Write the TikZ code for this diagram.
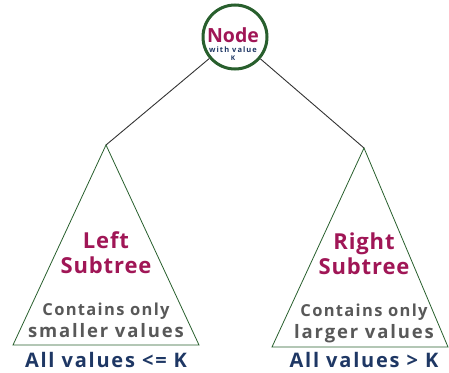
\documentclass[tikz,border=0pt]{standalone}
\usepackage{fontspec}
\setmainfont{Open Sans}
\usepackage{xcolor}
\usepackage{tikz}

\definecolor{titlered}{RGB}{160,22,86}
\definecolor{notegray}{RGB}{88,88,88}
\definecolor{rangeblue}{RGB}{30,55,100}
\definecolor{treegreen}{RGB}{40,95,45}

\begin{document}
\begin{tikzpicture}[x=1pt, y=-1pt,
	title/.style={anchor=base, text=titlered, font=\bfseries\fontsize{22}{24}\selectfont\addfontfeature{LetterSpace=4}},
	note/.style={anchor=base, text=notegray, font=\bfseries\fontsize{16.5}{18}\selectfont\addfontfeature{LetterSpace=8}},
	bignote/.style={anchor=base, text=notegray, font=\bfseries\fontsize{18.5}{20}\selectfont\addfontfeature{LetterSpace=10}},
	rangetext/.style={anchor=base, text=rangeblue, font=\bfseries\fontsize{20}{22}\selectfont\addfontfeature{LetterSpace=9}}]
	\useasboundingbox (0,0) rectangle (449,372);
	% root node
	\node[circle, minimum size=64pt, inner sep=0pt, draw=treegreen, line width=3pt, fill=white] at (235,37)(root){};
	\node[anchor=base, inner sep=0pt, text=titlered, font=\bfseries\fontsize{19.5}{20}\selectfont] at (233,42)(rootname){Node};
	\node[anchor=base, inner sep=0pt, text=rangeblue, font=\bfseries\fontsize{7.5}{8}\selectfont\addfontfeature{LetterSpace=14}] at (233,52)(rootwith){with value};
	\node[anchor=base, inner sep=0pt, text=rangeblue, font=\bfseries\fontsize{6.5}{7}\selectfont] at (233,60)(rootk){K};
	% triangle corners
	\coordinate (lapex) at (106,145);
	\coordinate (lleft) at (13,345);
	\coordinate (lright) at (199,345);
	\coordinate (rapex) at (364,148);
	\coordinate (rleft) at (272,347);
	\coordinate (rright) at (448,347);
	\draw[color=black!80, line width=0.9pt](root) -- (lapex);
	\draw[color=black!80, line width=0.9pt](root) -- (rapex);
	\draw[draw=treegreen, line width=0.8pt](lapex) -- (lleft) -- (lright) -- cycle;
	\draw[draw=treegreen, line width=0.8pt](rapex) -- (rleft) -- (rright) -- cycle;
	% left subtree
	\node[title] at (106,248)(ltitle1){Left};
	\node[title] at (106,273)(ltitle2){Subtree};
	\node[note] at (106,315)(lnote1){Contains only};
	\node[bignote] at (106,337)(lnote2){smaller values};
	\node[rangetext] at (106,367)(lrange){All values <= K};
	% right subtree
	\node[title] at (364,249)(rtitle1){Right};
	\node[title] at (364,274)(rtitle2){Subtree};
	\node[note] at (364,316)(rnote1){Contains only};
	\node[bignote] at (364,338)(rnote2){larger values};
	\node[rangetext] at (364,367)(rrange){All values > K};
\end{tikzpicture}
\end{document}
